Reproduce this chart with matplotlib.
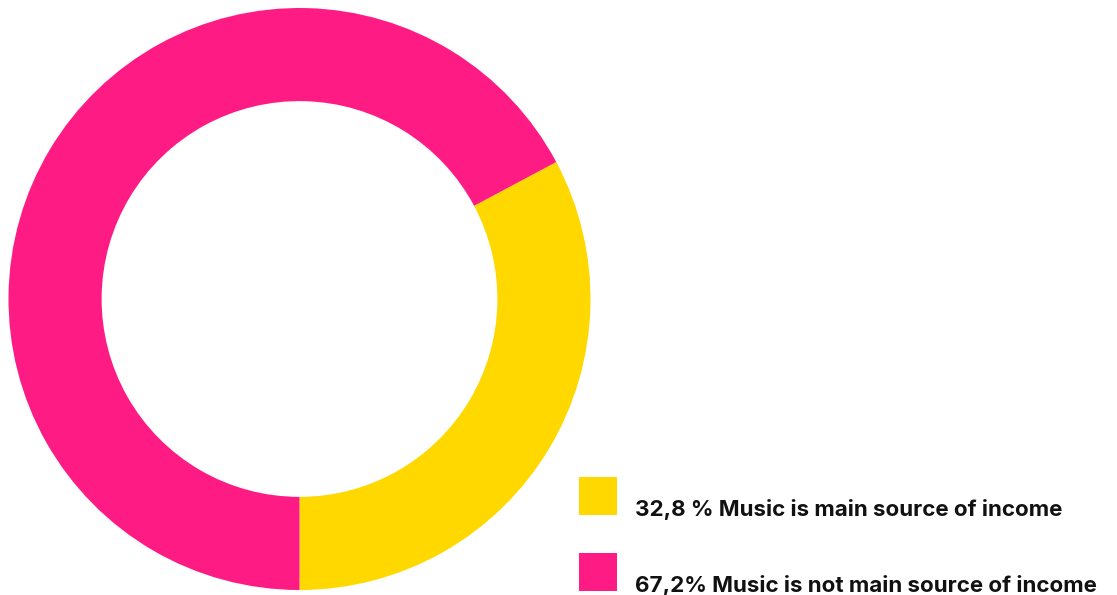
import matplotlib
matplotlib.use('Agg')
import matplotlib.pyplot as plt
from matplotlib.patches import Rectangle

# Donut chart: is music the main source of income
labels = ['32,8 % Music is main source of income',
          '67,2% Music is not main source of income']
values = [32.8, 67.2]
colors = ['#ffd800', '#ff1b84']

W, H = 1117, 595
fig = plt.figure(figsize=(W / 100, H / 100), dpi=100)

# donut axes (pixel box -> figure fraction)
cx, cy, r = 299.5, 299, 291
ax = fig.add_axes([(cx - r) / W, 1 - (cy + r) / H, 2 * r / W, 2 * r / H])
ax.pie(values, colors=colors, startangle=-90, counterclock=True,
       radius=1, wedgeprops=dict(width=0.32, linewidth=0))
ax.set_xlim(-1, 1)
ax.set_ylim(-1, 1)
ax.set_aspect('equal')
ax.axis('off')

# legend drawn by hand
box_x, box_w = 579, 38
box_tops = [477, 553]
for lab, col, top in zip(labels, colors, box_tops):
    fig.patches.append(Rectangle((box_x / W, 1 - (top + box_w) / H), box_w / W, box_w / H,
                                 transform=fig.transFigure, facecolor=col, edgecolor='none'))
    fig.text(635 / W, 1 - (top + box_w + 1) / H, lab, fontsize=16.1, fontweight='bold',
             family='Inter', color='#111111', va='baseline', ha='left')

fig.savefig('out.png', dpi=100)
